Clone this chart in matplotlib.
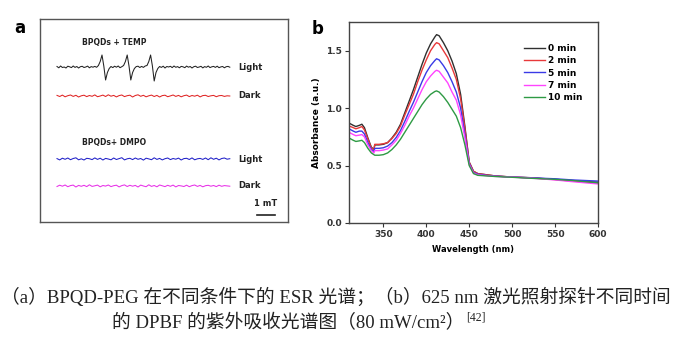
import numpy as np
import matplotlib
matplotlib.use("Agg")
import matplotlib.pyplot as plt

# ESR traces, signal in arbitrary units on a 0-9.6 mT sweep
esr_temp_light = [0.05, -0.08, 0.1, -0.05, 0.0, -0.1, 0.08, 0.02, -0.06, 0.1, -0.04, 0.05,
                  -0.1, 0.03, 0.07, -0.05, 0.0, 0.09, -0.08, 0.04, -0.02, 0.06, -0.03,
                  0.15, 0.55, 1.2, 0.1, -1.3, -0.55, -0.15, 0.05,
                  -0.06, 0.08, -0.02, 0.1, -0.07, 0.03,
                  0.15, 0.55, 1.2, 0.1, -1.3, -0.55, -0.15, 0.04,
                  0.08, -0.05, 0.06, -0.04, 0.1,
                  0.15, 0.55, 1.2, 0.1, -1.4, -0.55, -0.15, 0.05,
                  -0.04, 0.08, -0.1, 0.05, 0.0, 0.07, -0.06, 0.1, -0.03, 0.04, -0.08, 0.06,
                  0.02, -0.07, 0.09, -0.02, 0.05, -0.1, 0.03, 0.08, -0.05, 0.0, 0.07, -0.09,
                  0.04, -0.03, 0.1, -0.06, 0.02, 0.06, -0.04, 0.08, -0.07, 0.01, 0.05, -0.08,
                  0.03, 0.06, -0.02]
esr_temp_dark = [0.06, -0.05, 0.09, -0.08, 0.03, 0.1, -0.04, 0.07, -0.1, 0.02, 0.08, -0.06,
                 0.05, -0.03, 0.11, -0.07, 0.0, 0.09, -0.05, 0.12, -0.02, 0.06, -0.09, 0.04,
                 0.1, -0.06, 0.03, 0.08, -0.1, 0.05, 0.12, -0.03, 0.07, -0.08, 0.02, 0.09,
                 -0.05, 0.06, -0.1, 0.04, 0.08, -0.07, 0.01, 0.1, -0.04, 0.06, -0.08, 0.03,
                 0.09, -0.06, 0.05, -0.02, 0.08, -0.09, 0.04, 0.07, -0.05, 0.02, 0.06, -0.07,
                 0.03, 0.05, -0.04, 0.02, 0.0]
esr_dmpo_light = [0.04, -0.09, 0.08, -0.03, 0.1, -0.07, 0.05, 0.12, -0.08, 0.02, -0.1, 0.07,
                  0.03, -0.06, 0.11, -0.04, 0.08, -0.1, 0.06, 0.0, -0.08, 0.1, -0.05, 0.04,
                  0.13, -0.09, 0.02, 0.07, -0.06, 0.1, -0.03, 0.05, -0.11, 0.08, 0.01, -0.07,
                  0.12, -0.04, 0.06, -0.09, 0.03, 0.1, -0.06, 0.05, -0.02, 0.09, -0.1, 0.04,
                  0.07, -0.05, 0.11, -0.08, 0.02, 0.06, -0.04, 0.1, -0.07, 0.12, -0.03, 0.08,
                  -0.09, 0.05, 0.1, -0.02, 0.03]
esr_dmpo_dark = [-0.05, 0.08, -0.02, 0.1, -0.07, 0.04, 0.09, -0.1, 0.06, -0.03, 0.07, -0.06,
                 0.12, -0.04, 0.02, 0.09, -0.08, 0.05, -0.01, 0.1, -0.06, 0.03, 0.08, -0.09,
                 0.04, 0.11, -0.05, 0.07, -0.02, 0.06, -0.1, 0.09, 0.0, -0.07, 0.12, -0.04,
                 0.05, -0.08, 0.1, 0.02, -0.06, 0.07, -0.03, 0.09, -0.09, 0.05, 0.01, -0.05,
                 0.08, -0.07, 0.04, 0.1, -0.04, 0.06, -0.08, 0.03, 0.07, -0.02, 0.05, -0.06,
                 0.08, -0.03, 0.04, 0.01, -0.02]
esr_sweep_mT = 9.6

# UV-vis absorbance of DPBF
wavelength = [310, 315, 318, 322, 325, 328, 332, 336, 339, 340, 345, 350, 355, 360, 365,
              370, 375, 380, 385, 390, 395, 400, 405, 410, 412, 415, 420, 425, 430, 435,
              440, 445, 450, 455, 460, 470, 480, 500, 520, 550, 570, 600]
abs_0min = [0.87, 0.85, 0.84, 0.85, 0.86, 0.83, 0.74, 0.66, 0.64, 0.68, 0.68, 0.685, 0.70,
            0.74, 0.79, 0.86, 0.96, 1.06, 1.16, 1.27, 1.38, 1.48, 1.56, 1.62, 1.64, 1.63,
            1.57, 1.50, 1.41, 1.30, 1.12, 0.84, 0.53, 0.45, 0.43, 0.42, 0.41, 0.40, 0.395,
            0.38, 0.37, 0.355]
abs_2min = [0.845, 0.83, 0.82, 0.83, 0.84, 0.81, 0.73, 0.655, 0.635, 0.685, 0.685, 0.69,
            0.70, 0.735, 0.78, 0.845, 0.94, 1.03, 1.12, 1.23, 1.33, 1.42, 1.50, 1.555, 1.57,
            1.56, 1.50, 1.44, 1.35, 1.25, 1.08, 0.82, 0.53, 0.45, 0.43, 0.42, 0.41, 0.40,
            0.394, 0.378, 0.365, 0.35]
abs_5min = [0.82, 0.80, 0.79, 0.80, 0.80, 0.775, 0.70, 0.64, 0.62, 0.65, 0.65, 0.655, 0.67,
            0.70, 0.745, 0.805, 0.885, 0.97, 1.05, 1.14, 1.23, 1.31, 1.37, 1.415, 1.43, 1.42,
            1.37, 1.31, 1.23, 1.14, 1.0, 0.77, 0.52, 0.44, 0.425, 0.415, 0.408, 0.40, 0.394,
            0.385, 0.375, 0.365]
abs_7min = [0.79, 0.77, 0.76, 0.765, 0.77, 0.75, 0.68, 0.63, 0.61, 0.63, 0.63, 0.635, 0.645,
            0.68, 0.72, 0.78, 0.85, 0.93, 1.0, 1.08, 1.16, 1.23, 1.28, 1.32, 1.33, 1.32,
            1.27, 1.22, 1.14, 1.07, 0.94, 0.74, 0.51, 0.435, 0.42, 0.412, 0.406, 0.399, 0.392,
            0.375, 0.36, 0.34]
abs_10min = [0.74, 0.72, 0.71, 0.715, 0.72, 0.70, 0.65, 0.61, 0.595, 0.59, 0.59, 0.595,
             0.61, 0.64, 0.68, 0.73, 0.79, 0.85, 0.91, 0.97, 1.03, 1.08, 1.12, 1.145, 1.15,
             1.14, 1.10, 1.05, 0.99, 0.93, 0.83, 0.68, 0.50, 0.43, 0.415, 0.41, 0.405, 0.398,
             0.39, 0.38, 0.37, 0.35]
uv_labels = ["0 min", "2 min", "5 min", "7 min", "10 min"]

W, H = 686, 337
fig = plt.figure(figsize=(W / 100, H / 100), dpi=100)
fig.patch.set_facecolor("white")


def px_axes(x0, y0, x1, y1):
    return fig.add_axes([x0 / W, 1 - y1 / H, (x1 - x0) / W, (y1 - y0) / H])


# ---- panel a : ESR ----
axa = px_axes(40, 19, 288, 222)
pxmT = 18.0
x_left = -17 / pxmT
axa.set_xlim(x_left, x_left + 248 / pxmT)
axa.set_ylim(222, 19)
axa.set_xticks([])
axa.set_yticks([])
for s in axa.spines.values():
    s.set_color("#555555")
    s.set_linewidth(1.0)

traces = [(esr_temp_light, 67, "#222222", "Light"),
          (esr_temp_dark, 96, "#e02424", "Dark"),
          (esr_dmpo_light, 159, "#2020c8", "Light"),
          (esr_dmpo_dark, 186, "#e830e8", "Dark")]
for sig, base, col, lab in traces:
    field = np.linspace(0, esr_sweep_mT, len(sig))
    axa.plot(field, base - 10 * np.array(sig), color=col, lw=0.75)
    axa.text(esr_sweep_mT + 8 / pxmT, base, lab, fontsize=6, fontweight="bold",
             va="center", ha="left", color="#222222")

axa.text(25 / pxmT, 43, "BPQDs + TEMP", fontsize=5.5, fontweight="bold", va="center",
         ha="left", color="#222222")
axa.text(25 / pxmT, 142, "BPQDs+ DMPO", fontsize=5.5, fontweight="bold", va="center",
         ha="left", color="#222222")
bar_x0 = (257 - 57) / pxmT
axa.plot([bar_x0, bar_x0 + 1.0], [215, 215], color="#222222", lw=1.2)
axa.text(bar_x0 + 0.5, 204, "1 mT", fontsize=6, fontweight="bold", ha="center",
         va="center", color="#222222")
fig.text(20 / W, 1 - 28 / H, "a", fontsize=12, fontweight="bold", ha="center", va="center")

# ---- panel b : UV-vis ----
axb = px_axes(349, 22, 598, 223)
cols = ["#303030", "#e8393a", "#3a3ae6", "#ff44ff", "#2e9a44"]
for vals, col, lab in zip([abs_0min, abs_2min, abs_5min, abs_7min, abs_10min], cols, uv_labels):
    axb.plot(wavelength, vals, color=col, lw=1.0, label=lab)
axb.set_xlim(310, 600)
axb.set_ylim(0, 1.75)
axb.set_xticks([350, 400, 450, 500, 550, 600])
axb.set_yticks([0.0, 0.5, 1.0, 1.5])
axb.yaxis.set_major_formatter(matplotlib.ticker.FormatStrFormatter("%.1f"))
axb.tick_params(direction="out", length=3, width=0.8, labelsize=6.5, pad=2,
                colors="#333333")
for t in axb.get_xticklabels() + axb.get_yticklabels():
    t.set_fontweight("bold")
for s in axb.spines.values():
    s.set_color("#444444")
    s.set_linewidth(1.0)
axb.set_xlabel("Wavelength (nm)", fontsize=6, fontweight="bold", labelpad=4)
axb.set_ylabel("Absorbance (a.u.)", fontsize=6.5, fontweight="bold", labelpad=4)
axb.legend(loc="upper right", bbox_to_anchor=(0.97, 0.93), frameon=False,
           handlelength=2.3, handletextpad=0.3, labelspacing=0.35,
           prop={"weight": "bold", "size": 6.5})
fig.text(318 / W, 1 - 29 / H, "b", fontsize=12, fontweight="bold", ha="center", va="center")

# ---- caption ----
cap_font = ["Liberation Serif", "Noto Sans CJK SC"]
fig.text(1 / W, 1 - 297 / H,
         "（a）BPQD-PEG 在不同条件下的 ESR 光谱；（b）625 nm 激光照射探针不同时间",
         family=cap_font, fontsize=13.5, ha="left", va="center", color="#222222")
line2 = fig.text(112 / W, 1 - 323 / H, "的 DPBF 的紫外吸收光谱图（80 mW/cm²）",
                 family=cap_font, fontsize=13.5, ha="left", va="center", color="#222222")
fig.canvas.draw()
bb = line2.get_window_extent()
fig.text((bb.x1 + 2) / W, 1 - 317 / H, "[42]", family=cap_font, fontsize=8.5,
         ha="left", va="center", color="#222222")

fig.savefig("out.png", dpi=100)
